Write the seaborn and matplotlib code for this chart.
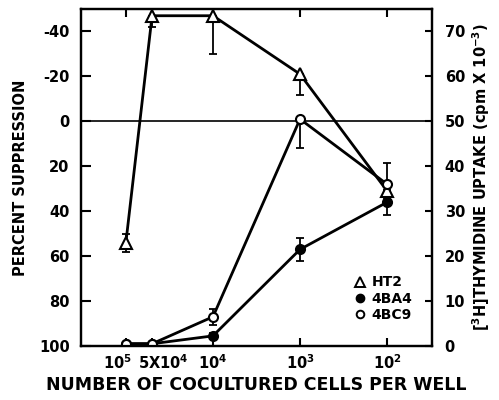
import numpy as np
import pandas as pd
import matplotlib
matplotlib.use("Agg")
import matplotlib.pyplot as plt
from matplotlib.lines import Line2D
from matplotlib.ticker import FixedLocator, NullLocator
from matplotlib.transforms import ScaledTranslation
import seaborn as sns

sns.set_style("ticks")
plt.rcParams["font.family"] = ["DejaVu Sans"]
plt.rcParams["font.weight"] = "bold"
plt.rcParams["mathtext.fontset"] = "dejavusans"
plt.rcParams["mathtext.default"] = "bf"
for key in ["text.color", "axes.labelcolor", "xtick.color", "ytick.color", "axes.edgecolor"]:
    plt.rcParams[key] = "black"

# cells per well (x) and percent suppression (left axis)
cells = [1e5, 5e4, 1e4, 1e3, 1e2]
cell_labels = ["10$^5$", "5X10$^4$", "10$^4$", "10$^3$", "10$^2$"]

ht2 = [54, -47, -47, -21, 31]
ht2_err_minus = [4, 0, 0, 0, 0]
ht2_err_plus = [4, 5, 17, 9.5, 3]

ba4 = [99, 99, 95.5, 57, 36]
ba4_err_minus = [0, 0, 1.5, 5, 5.5]
ba4_err_plus = [0, 0, 0, 5, 5.5]

bc9 = [99, 99, 87, -1, 28]
bc9_err_minus = [0, 0, 3.5, 0, 9.5]
bc9_err_plus = [0, 0, 3.5, 13, 0]

supp_ticks = [-40, -20, 0, 20, 40, 60, 80, 100]
uptake_ticks = [0, 10, 20, 30, 40, 50, 60, 70]

series = {
    "HT2": (ht2, ht2_err_minus, ht2_err_plus, "^", "white"),
    "4BA4": (ba4, ba4_err_minus, ba4_err_plus, "o", "black"),
    "4BC9": (bc9, bc9_err_minus, bc9_err_plus, "o", "white"),
}

fig = plt.figure(figsize=(4.99, 4.0), dpi=100)
ax = fig.add_axes([0.162, 0.135, 0.704, 0.8425])

# zero line
ax.axhline(0, color="black", lw=1.2, zorder=1)

for name, (vals, emin, eplus, mk, face) in series.items():
    df = pd.DataFrame({"cells": cells, "value": vals})
    ax.errorbar(cells, vals, yerr=[emin, eplus], fmt="none", ecolor="black",
                elinewidth=1.3, capsize=3, capthick=1.3, zorder=2)
    sns.lineplot(data=df, x="cells", y="value", ax=ax, color="black",
                 lw=2.0, marker=mk, markersize=8 if mk == "^" else 6.5,
                 markerfacecolor=face, markeredgecolor="black",
                 markeredgewidth=1.5, zorder=3, sort=False)

ax.set_xscale("log")
ax.set_xlim(3.29e5, 30.4)
ax.set_ylim(100, -50)
ax.xaxis.set_major_locator(FixedLocator(cells))
ax.xaxis.set_minor_locator(NullLocator())
ax.set_xticklabels(cell_labels, fontsize=10.5)
ax.set_yticks(supp_ticks)
ax.set_yticklabels([str(t) for t in supp_ticks], fontsize=10.5)
ax.tick_params(axis="x", direction="in", length=6, width=1.5, top=True, pad=5)
ax.tick_params(axis="y", direction="in", length=7, width=1.5, pad=8)

# spread the two crowded labels apart like in the original figure
xlabels = ax.get_xticklabels()
xlabels[0].set_transform(xlabels[0].get_transform() + ScaledTranslation(-8 / 100, 0, fig.dpi_scale_trans))
xlabels[1].set_transform(xlabels[1].get_transform() + ScaledTranslation(11 / 100, 0, fig.dpi_scale_trans))

ax.set_xlabel("NUMBER OF COCULTURED CELLS PER WELL", fontsize=12.5,
              fontweight="bold", labelpad=3)
ax.set_ylabel("PERCENT SUPPRESSION", fontsize=10.5, fontweight="bold",
              labelpad=8)

for sp in ax.spines.values():
    sp.set_linewidth(1.6)

ax2 = ax.twinx()
ax2.set_ylim(0, 75)
ax2.set_yticks(uptake_ticks)
ax2.set_yticklabels([str(t) for t in uptake_ticks], fontsize=10.5)
ax2.tick_params(axis="y", direction="in", length=5, width=1.5, pad=9)
ax2.set_ylabel("[$^3$H]THYMIDINE UPTAKE (cpm X 10$^{-3}$)", fontsize=10.5,
               fontweight="bold", labelpad=4)
for sp in ax2.spines.values():
    sp.set_linewidth(1.6)

handles = [
    Line2D([], [], ls="none", marker="^", markersize=7, mfc="white", mec="black", mew=1.4),
    Line2D([], [], ls="none", marker="o", markersize=6, mfc="black", mec="black"),
    Line2D([], [], ls="none", marker="o", markersize=5.5, mfc="white", mec="black", mew=1.4),
]
ax.legend(handles, list(series.keys()), loc="upper left",
          bbox_to_anchor=(0.76, 0.23), frameon=False, handlelength=0.8,
          handletextpad=0.4, labelspacing=0.15, borderpad=0,
          prop={"weight": "bold", "size": 10})

fig.savefig("out.png", dpi=100)
